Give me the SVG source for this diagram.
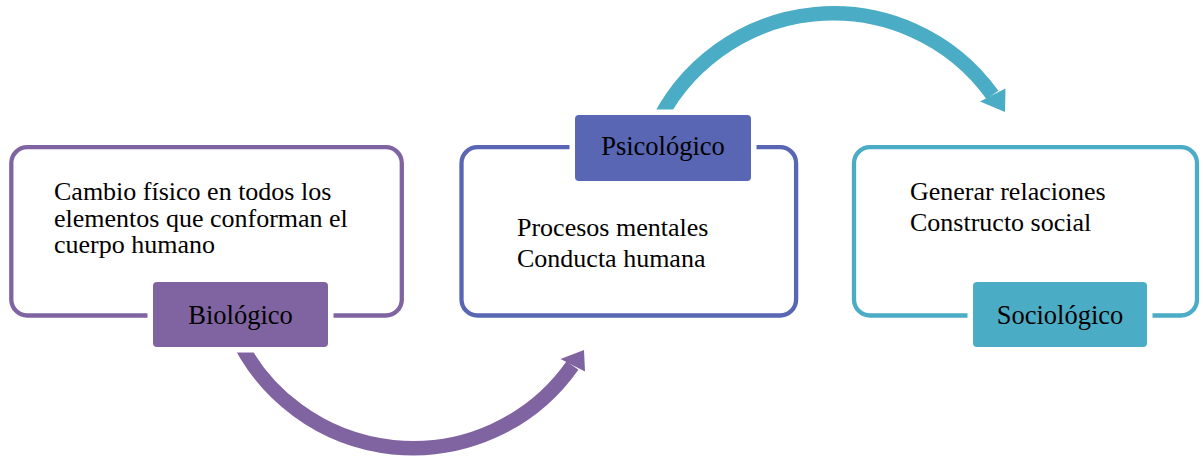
<svg xmlns="http://www.w3.org/2000/svg" width="1203" height="456" viewBox="0 0 1203 456">
<style>
.box{fill:#FFFFFF;stroke-width:4.3}
.lbl{stroke:#FFFFFF;stroke-width:11;paint-order:stroke}
.body{font-family:'Liberation Serif','Times New Roman',serif;font-size:26px;fill:#000000}
.lt{font-family:'Liberation Serif','Times New Roman',serif;font-size:26.5px;fill:#000000;text-anchor:middle}
.arc{fill:none;stroke-width:14.5}
</style>
<rect width="1203" height="456" fill="#FFFFFF"/>
<g id="connectors">
<path class="arc" stroke="#8064A2" d="M 233.8 330 A 195 195 0 0 0 572.5 365.5"/>
<polygon fill="#8064A2" points="584,350 560.5,359 585,371.5"/>
<path class="arc" stroke="#4BACC6" d="M 654.1 130 A 196 196 0 0 1 992.5 95"/>
<polygon fill="#4BACC6" points="1005,112 980,101.5 1005.5,88.5"/>
</g>
<g id="node-biologico">
<rect class="box" stroke="#8064A2" x="11.3" y="147.2" width="390.5" height="168.3" rx="16"/>
<text class="body" font-family="Liberation Serif, serif" x="54" y="200">Cambio físico en todos los</text>
<text class="body" font-family="Liberation Serif, serif" x="54" y="226.7">elementos que conforman el</text>
<text class="body" font-family="Liberation Serif, serif" x="54" y="253.3">cuerpo humano</text>
<rect class="lbl" fill="#8064A2" x="153" y="282" width="175" height="65" rx="4"/>
<text class="lt" x="240.5" y="324">Biológico</text>
</g>
<g id="node-psicologico">
<rect class="box" stroke="#5866B3" x="461.5" y="147.2" width="334.6" height="168.3" rx="16"/>
<text class="body" font-family="Liberation Serif, serif" x="517" y="236">Procesos mentales</text>
<text class="body" font-family="Liberation Serif, serif" x="517" y="267">Conducta humana</text>
<rect class="lbl" fill="#5866B3" x="575" y="115" width="176" height="66" rx="4"/>
<text class="lt" x="663" y="155">Psicológico</text>
</g>
<g id="node-sociologico">
<rect class="box" stroke="#4BACC6" x="854" y="147.2" width="343" height="168.3" rx="16"/>
<text class="body" font-family="Liberation Serif, serif" x="910" y="200">Generar relaciones</text>
<text class="body" font-family="Liberation Serif, serif" x="910" y="231">Constructo social</text>
<rect class="lbl" fill="#4BACC6" x="973" y="282" width="174" height="65" rx="4"/>
<text class="lt" x="1060" y="323.5">Sociológico</text>
</g>
</svg>
